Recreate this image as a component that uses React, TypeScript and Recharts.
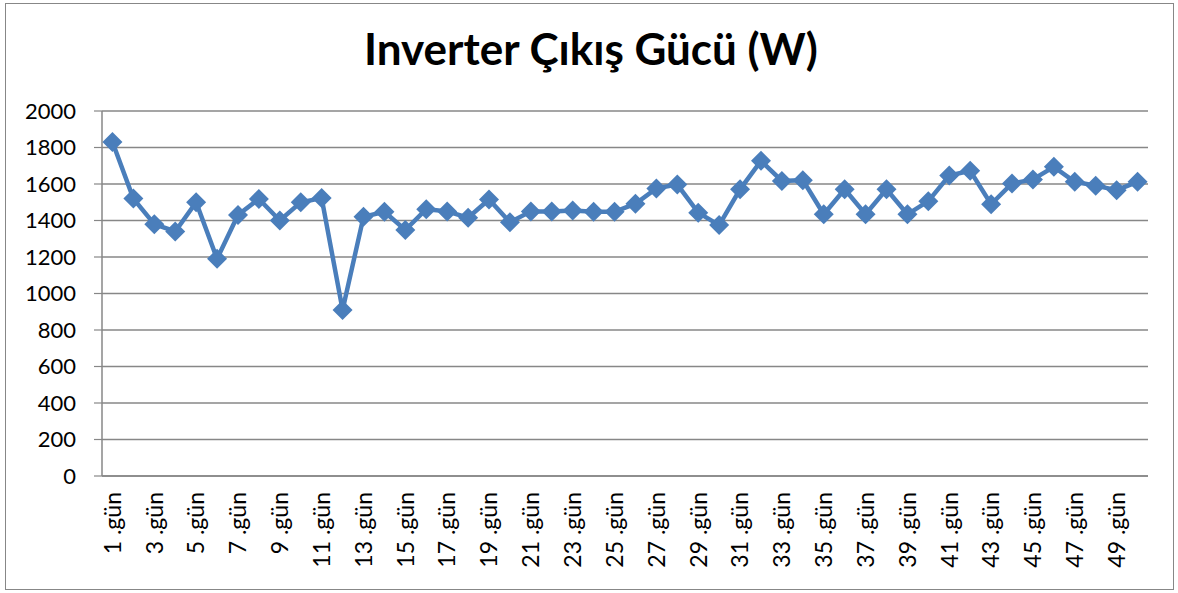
import React from "react"
import { LineChart, Line, XAxis, YAxis, CartesianGrid } from "recharts"

const days = Array.from({ length: 50 }, (_, i) => `${i + 1} .gün`)

const power = [
	1830, 1520, 1380, 1340, 1500, 1190, 1430, 1518, 1400, 1500,
	1523, 910, 1420, 1448, 1348, 1462, 1450, 1415, 1515, 1390,
	1450, 1450, 1455, 1448, 1448, 1492, 1576, 1597, 1443, 1375,
	1571, 1727, 1617, 1621, 1434, 1571, 1434, 1571, 1434, 1506,
	1646, 1672, 1489, 1603, 1625, 1694, 1612, 1591, 1566, 1612,
]

const yTicks = [0, 200, 400, 600, 800, 1000, 1200, 1400, 1600, 1800, 2000]
const edgeTicks = Array.from({ length: 51 }, (_, i) => i)

const data = days.map((d, i) => ({ day: d, value: power[i] }))

const GRAY = "#878787"
const BLUE = "#4A7EBB"
const FONT = "Lato, 'Open Sans', sans-serif"

const Diamond = (props: any) => {
	const { cx, cy } = props
	if (cx == null || cy == null) return null
	const r = 10
	return <polygon points={`${cx},${cy - r} ${cx + r},${cy} ${cx},${cy + r} ${cx - r},${cy}`} fill={BLUE} />
}

const DayTick = (props: any) => {
	const { x, payload } = props
	return (
		<g transform={`translate(${x},${476})`}>
			<text transform="rotate(-90)" x={-16} y={0} dy="0.36em" textAnchor="end" fontSize={23} fontFamily={FONT} fill="#000">
				{payload.value}
			</text>
		</g>
	)
}

export default function App() {
	return (
		<div style={{ position: "fixed", left: 0, top: 0, width: 1178, height: 593, background: "#fff", fontFamily: FONT }}>
			<div style={{ position: "absolute", left: 5, top: 3, width: 1167, height: 585, border: `1.5px solid ${GRAY}` }} />
			<div style={{ position: "absolute", left: 0, top: 18, width: 1182, textAlign: "center", fontSize: 44, fontWeight: 700, color: "#000", lineHeight: "60px" }}>
				Inverter Çıkış Gücü (W)
			</div>
			<div style={{ position: "absolute", left: 0, top: 0 }}>
				<LineChart width={1178} height={593} data={data} margin={{ top: 111, right: 30, bottom: 0, left: 0 }}>
					<CartesianGrid xAxisId="cat" vertical={false} stroke={GRAY} strokeWidth={1.5} />
					<XAxis xAxisId="edge" type="number" domain={[0, 50]} allowDataOverflow ticks={edgeTicks} tick={false} tickSize={7} tickLine={{ stroke: GRAY, strokeWidth: 1.2 }} axisLine={false} height={0} />
					<XAxis xAxisId="cat" dataKey="day" scale="band" interval={1} tickLine={false} axisLine={{ stroke: GRAY, strokeWidth: 1.5 }} height={117} tick={<DayTick />} />
					<YAxis domain={[0, 2000]} ticks={yTicks} width={102} tickSize={8} tickMargin={18} tickLine={{ stroke: GRAY, strokeWidth: 1.2 }} axisLine={{ stroke: GRAY, strokeWidth: 1.5 }} tick={{ fontSize: 22, fontFamily: FONT, fill: "#000" }} />
					<Line xAxisId="cat" type="linear" dataKey="value" stroke={BLUE} strokeWidth={4.5} dot={<Diamond />} activeDot={false} isAnimationActive={false} />
				</LineChart>
			</div>
		</div>
	)
}
